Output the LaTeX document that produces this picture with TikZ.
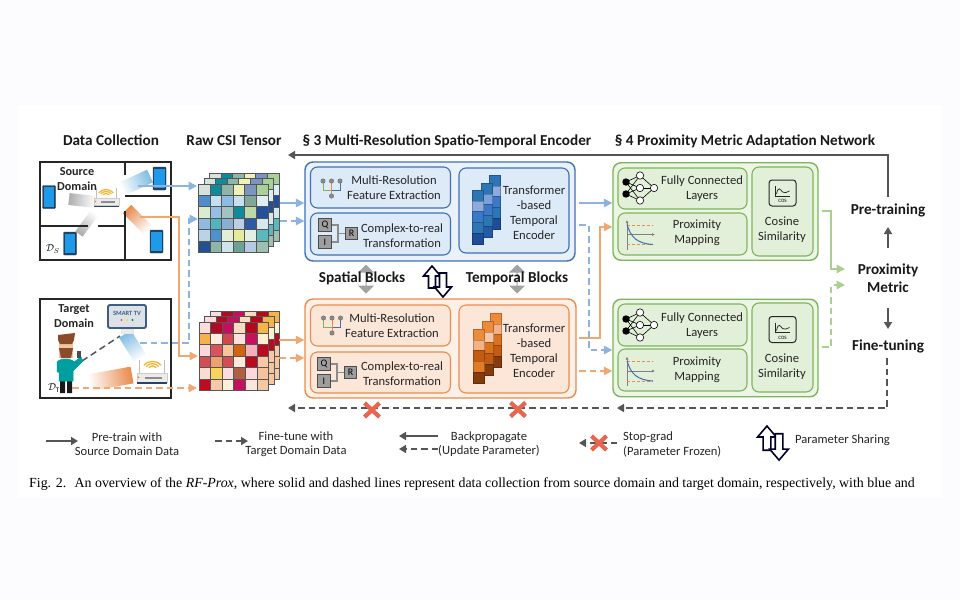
\documentclass[tikz,border=0pt]{standalone}
\usepackage{fontspec}
\setmainfont{Carlito}
\newfontfamily\capfont{Liberation Serif}
\usetikzlibrary{arrows.meta,calc,shapes.arrows}

\definecolor{dkg}{HTML}{555555}
\definecolor{blu}{HTML}{8DB4DE}
\definecolor{org}{HTML}{F0A873}
\definecolor{grn}{HTML}{A9D18E}
\definecolor{blub}{HTML}{3F70B5}
\definecolor{orgb}{HTML}{E88C4F}
\definecolor{grnb}{HTML}{7DB45C}
\definecolor{blof}{HTML}{E9F1FA}
\definecolor{blif}{HTML}{DDEAF7}
\definecolor{orof}{HTML}{FDF0E6}
\definecolor{orif}{HTML}{FBE6D8}
\definecolor{grof}{HTML}{EDF5E6}
\definecolor{grif}{HTML}{E2EFD9}
\definecolor{scrn}{HTML}{1E9BE8}
\definecolor{pfrm}{HTML}{26415E}
\definecolor{tvfr}{HTML}{3F5F80}
\definecolor{skin}{HTML}{F2C79B}
\definecolor{hair}{HTML}{8B4A2B}
\definecolor{stopc}{HTML}{E8654F}
\definecolor{wfc}{HTML}{F7B52C}

% csi cells, six to a row
\newcommand{\srccells}{D5E3DC,0F8A9C,8FB5A8,EEF2B8,7B94C0,A9CF9B,4F8ECB,C5DFF0,8CBBE4,C8DFF0,7FA899,DFEEF5,DCEAD0,96BDE6,A3C3C0,0F8A9C,BCD9A8,22509A,8FBBE0,52B4BD,8AAED4,BCCDE4,2A5AA8,D5E8EE,BAD3E6,4F90CD,E3EFD3,E4EB9A,E3EFE0,5AB8BE,23508F,8FB5A8,CFE3EA,6FA295,B5C9E0,9EC0B0}
\newcommand{\tgtcells}{FBDCDC,B00A24,C40F5E,F7DCC0,B50A1C,F4B44C,F4B24E,FDECDC,D0474E,FDE0DC,C8105E,FDF0D0,FBD8DC,D8545A,F5C49C,D1640F,F8B0B8,B80A20,D24E54,EEA070,D24E54,FDE8DC,BB0A20,F6C8A8,FBDCD0,F9D45C,FCDCDC,B06040,FCD8DC,F5C49C,C00A20,F4C8A8,FDF0D8,C4105E,FDE4DC,F5C8A4}
\newcommand{\csigrid}[3]{
	\foreach \c [count=\i from 0] in #3 {
		\pgfmathtruncatemacro\col{mod(\i,6)}
		\pgfmathtruncatemacro\row{\i/6}
		\definecolor{cell}{HTML}{\c}
		\filldraw[fill=cell, draw=dkg, line width=0.9pt] (#1+\col*11.6, #2+\row*11.4) rectangle +(11.6,11.4);
	}
}
% faded band: strong end, weak end, half width, colour, direction
\newcommand{\sigband}[5]{
	\pgfmathsetmacro\ang{#5+90}
	\shade[left color=#4, right color=white, shading angle=\ang]
		($#1!#3!90:#2$) -- ($#1!#3!-90:#2$) -- ($#2!#3!90:#1$) -- ($#2!#3!-90:#1$) -- cycle;
}
\newcommand{\barcol}[7]{
	\foreach \c [count=\i from 0] in {#3,#4,#5,#6,#7} {
		\definecolor{cell}{HTML}{\c}
		\filldraw[fill=cell, draw=cell!75!black, line width=0.4pt] (#1, #2+\i*10.8) rectangle +(11,10.8);
	}
}

\begin{document}
\begin{tikzpicture}[x=1pt, y=-1pt]
\tikzset{
lbl/.style={align=center, inner sep=0pt, font=\fontsize{12.6}{15}\selectfont, text=black!85},
ttl/.style={align=center, inner sep=0pt, font=\fontsize{15.2}{18}\selectfont\bfseries, text=black!90},
rm/.style={draw=black!85, line width=1.7pt, fill=white, inner sep=0pt},
wall/.style={draw=black!85, line width=1.7pt},
f/.style={-{Triangle[length=8.5pt,width=8.5pt]}, line width=1.5pt},
g/.style={-{Triangle[length=7pt,width=8pt]}, line width=1.7pt, dkg},
dsh/.style={dash pattern=on 6.5pt off 4pt},
enc/.style={rounded corners=8pt, inner sep=0pt, line width=1.4pt},
blk/.style={rounded corners=7pt, inner sep=0pt, line width=1.1pt},
qbox/.style={draw=black!70, fill=black!38, line width=0.9pt, inner sep=0pt, minimum size=12.5pt, font=\fontsize{10}{10}\selectfont},
% small icons
phone/.pic={
	\filldraw[fill=pfrm, draw=pfrm, rounded corners=1pt] (-6.5,-11.5) rectangle (6.5,11.5);
	\fill[scrn] (-5.4,-9.8) rectangle (5.4,9.8);
},
router/.pic={
	\draw[black!25, line width=1pt] (-10,-1) -- (-10,-15) (10,-1) -- (10,-15);
	\fill[white] (-9.5,-15) rectangle (9.5,-4);
	\filldraw[fill=black!8, draw=black!20, line width=0.5pt] (-12.5,-4) rectangle (12.5,3);
	\fill[black!45] (-6,-1.2) rectangle (8,0);
	\fill[blub!60!black] (-12.5,3) rectangle (12.5,4.2);
	\fill[orange] (-11,-1) circle (0.8pt);
},
wifi/.pic={
	\foreach \r in {3.5,6,8.5} {
		\draw[wfc, line width=1.25pt, line cap=round] (-\r,-\r*0.45) .. controls (-\r*0.4,-\r*1.05) and (\r*0.4,-\r*1.05) .. (\r,-\r*0.45);
	}
},
tree/.pic={
	\draw[grnb, line width=1pt] (-8.5,0) |- (0,9);
	\draw[blub, line width=1pt] (8.5,0) |- (0,9);
	\draw[orgb, line width=1pt] (0,0) -- (0,15);
	\foreach \x/\y in {-8.5/0, 0/0, 8.5/0, 0/15} {
		\filldraw[fill=black!45, draw=black!60, line width=0.4pt] (\x,\y) circle (2.2pt);
	}
},
qir/.pic={
	\draw[black!45, line width=1.1pt] (6,6) -| (19,14.5) -- (26,14.5) (6,23) -| (19,14.5);
	\node[qbox] (q) at (6,6) {Q};
	\node[qbox] (i) at (6,23) {I};
	\node[qbox] (r) at (32.5,14.5) {R};
},
nnet/.pic={
	\foreach \a/\b in {0/-6, 0/6} {
		\foreach \c in {-12.5,0,12.5} {
			\draw[black, line width=0.6pt] (0,\b) -- (14,\c);
		}
	}
	\foreach \c in {-12.5,0,12.5} {
		\draw[black, line width=0.6pt] (14,\c) -- (28,0);
		\filldraw[fill=white, draw=black, line width=0.6pt] (14,\c) circle (3.7pt);
	}
	\filldraw[fill=white, draw=black, line width=0.6pt] (28,0) circle (3.7pt);
	\fill[black] (0,-6) circle (3.7pt) (0,6) circle (3.7pt);
},
chart/.pic={
	\draw[-{Latex[length=3pt,width=3pt]}, black!50, line width=0.7pt] (0,0) -- (0,-14.5);
	\draw[black!50, line width=0.7pt] (0,0) -- (0,15);
	\draw[-{Latex[length=3pt,width=3pt]}, black!50, line width=0.7pt] (0,0) -- (28,0);
	\draw[orgb, densely dashed, line width=0.8pt] (0,-9.5) -- (26,-9.5) (0,10) -- (26,10);
	\draw[blub, line width=1pt] (0,-10) .. controls (4,3) and (10,9) .. (26,10);
},
cosine/.pic={
	\filldraw[fill=grif, draw=black!85, rounded corners=3pt, line width=1pt] (-13.5,-13) rectangle (13.5,13);
	\draw[black!85, line width=0.7pt] (-7.5,-7) -- (-7.5,3) -- (7.5,3);
	\draw[black!85, line width=0.7pt] (-6,1) .. controls (-4,-8) and (-2,-3) .. (0,-1) .. controls (2,1) and (4,-1) .. (7,-2);
	\node[inner sep=0pt, font=\fontsize{5}{5}\selectfont] (cs) at (0,8) {COS};
},
share/.pic={
	\filldraw[fill=white, draw=black!85!blue, line width=1.6pt, line join=miter] (-5.5,-15) -- (3,-5) -- (-2,-5) -- (-2,7) -- (-9,7) -- (-9,-5) -- (-14,-5) -- cycle;
	\filldraw[fill=white, draw=black!85!blue, line width=1.6pt, line join=miter] (5.5,16) -- (14,6) -- (9,6) -- (9,-8) -- (2,-8) -- (2,6) -- (-3,6) -- cycle;
},
stopx/.pic={
	\draw[stopc, line width=4.2pt] (-7.5,-7) -- (7.5,7) (-7.5,7) -- (7.5,-7);
}
}

% page and white sheet
\useasboundingbox (0,0) rectangle (960,600);
\fill[black!2!blue!1!white] (0,0) rectangle (960,600);
\fill[white] (18,105) rectangle (942,497);

% titles
\node[ttl] (tdc) at (111,140.5) {Data Collection};
\node[ttl] (tcsi) at (234,141) {Raw CSI Tensor};
\node[ttl] (tenc) at (447,141) {§ 3 Multi-Resolution Spatio-Temporal Encoder};
\node[ttl] (tnet) at (745,141) {§ 4 Proximity Metric Adaptation Network};

% source room
\node[rm, minimum width=131pt, minimum height=98pt] (rms) at (105.5,211) {};
\sigband{(69,199)}{(95,202)}{6pt}{black!32}{-7}
\sigband{(79,234)}{(95,212)}{4.5pt}{black!32}{54}
\sigband{(150,176)}{(122,189)}{7pt}{blu!90!cyan}{205}
\sigband{(127,209)}{(148,230)}{6pt}{orgb}{-45}
\draw[wall] (125,162) -- (125,175) (125,211) -- (125,260) (125,196) -- (171,196) (40,226) -- (88,226) (98,226) -- (125,226);
\pic at (159.5,178.5) {phone};
\pic at (49,197) {phone};
\pic at (70,243.5) {phone};
\pic at (156.5,241.5) {phone};
\pic at (106.5,202.5) {router};
\pic at (106,196) [scale=0.85] {wifi};
\node[lbl, font=\fontsize{12.2}{15}\selectfont\bfseries] (lsrc) at (77,179.5) {Source\\Domain};
\node[inner sep=0pt] (ds) at (53,249) {$\mathcal{D}_S$};

% target room
\node[rm, minimum width=131pt, minimum height=99pt] (rmt) at (105.5,348.5) {};
\sigband{(125,334)}{(140,358)}{7pt}{blu!90!cyan}{-58}
\sigband{(132,375)}{(88,383)}{8.5pt}{orgb}{190}
\draw[dkg, line width=1.5pt, dsh] (82,361) -- (120,336);
\pic at (152,378.5) [scale=1.22] {router};
\pic at (152.5,369) {wifi};
% smart tv on its stand
\filldraw[fill=black!8, draw=black!10] (121,329) rectangle (133,333);
\filldraw[fill=tvfr!18, draw=tvfr, rounded corners=1.5pt, line width=1.8pt] (108,305) rectangle (146,328);
\node[inner sep=0pt, font=\fontsize{6.4}{7}\selectfont\bfseries, text=tvfr] (tv) at (127,313) {SMART TV};
\fill[red!70] (121.5,320) circle (1.1pt);
\fill[yellow!80!orange] (127,320) circle (1.1pt);
\fill[green!60!black] (132.5,320) circle (1.1pt);
% person
\fill[black!90] (60,380) rectangle (65,393) (67,380) rectangle (72,393);
\filldraw[fill=teal!75!cyan, draw=teal!75!cyan, line width=0.5pt] (57,362) .. controls (60,358) and (71,358) .. (74,362) -- (81,357) -- (83,361) -- (73,371) -- (73,381) -- (59,381) -- (59,372) -- (57,372) -- cycle;
\fill[skin] (59,340) rectangle (73,358);
\fill[hair] (58,340) -- (58,335) -- (75,333) -- (74,340) -- (72,344) -- (60,344) -- cycle;
\fill[hair] (59,348) -- (73,348) -- (71,358) -- (61,358) -- cycle;
\filldraw[fill=black!70, draw=black!70] (77,351) rectangle (80.5,357);
\node[inner sep=0pt] (dt) at (54,388) {$\mathcal{D}_{\mathrm{T}}$};
\node[lbl, font=\fontsize{12.2}{15}\selectfont\bfseries] (ltgt) at (74,316) {Target\\Domain};

% csi tensors, three sheets each
\csigrid{209.5}{173}{\srccells}
\csigrid{204}{178.5}{\srccells}
\csigrid{198.5}{184}{\srccells}
\csigrid{210}{311}{\tgtcells}
\csigrid{204.5}{316.5}{\tgtcells}
\csigrid{199}{322}{\tgtcells}

% encoders
\node[enc, draw=blub, fill=blof, minimum width=270pt, minimum height=99pt] (encs) at (440,211.5) {};
\node[enc, draw=orgb, fill=orof, minimum width=271pt, minimum height=99pt] (enct) at (440.5,348.5) {};
\foreach \n/\cc/\fl/\y/\h in {ms/blub/blif/187.5/41, cs/blub/blif/234/42, mt/orgb/orif/325.5/41, ct/orgb/orif/372.5/41} {
	\node[blk, draw=\cc, fill=\fl, minimum width=140pt, minimum height=\h pt] (\n) at (380.5,\y) {};
}
\node[blk, draw=blub, fill=blif, minimum width=110pt, minimum height=85pt] (ts) at (514,210.5) {};
\node[blk, draw=orgb, fill=orif, minimum width=110pt, minimum height=88pt] (tt) at (514,349) {};

\pic at (331.5,181) {tree};
\pic at (332,318) {tree};
\pic at (319,219) {qir};
\pic at (318,358) {qir};

\barcol{489}{175}{2E75B6}{8FAADC}{3C78C8}{2E75B6}{1F4E99}
\barcol{481}{183}{2E75B6}{7CA0DC}{3C78C8}{2E75B6}{255AA5}
\barcol{472.5}{190}{2E75B6}{8FAADC}{3C78C8}{2E75B6}{1F4E99}
\barcol{490}{313}{ED8B3A}{F4B183}{D9731F}{C55A11}{843C0C}
\barcol{482}{321}{ED8B3A}{F8C6A0}{D9731F}{C55A11}{843C0C}
\barcol{473.5}{329}{ED8B3A}{F4B183}{C55A11}{E07B2A}{843C0C}

\node[lbl] (lms) at (394,187.5) {Multi-Resolution\\Feature Extraction};
\node[lbl] (lcs) at (402,235.5) {Complex-to-real\\Transformation};
\node[lbl] (lts) at (534,212.5) {Transformer\\-based\\Temporal\\Encoder};
\node[lbl] (lmt) at (392,325.5) {Multi-Resolution\\Feature Extraction};
\node[lbl] (lct) at (402,374) {Complex-to-real\\Transformation};
\node[lbl] (ltt) at (534,351) {Transformer\\-based\\Temporal\\Encoder};

% between the encoders
\foreach \n/\x in {sa/366, ta/517} {
	\node[double arrow, fill=black!36, rotate=90, inner sep=0pt, minimum height=29pt, minimum width=16pt, double arrow head extend=3pt] (\n) at (\x,279) {};
}
\node[ttl] (lsb) at (362,278) {Spatial Blocks};
\node[ttl] (ltb) at (517,278) {Temporal Blocks};
\pic at (437.5,281) {share};

% proximity networks
\foreach \n/\y in {s/211.5, t/348} {
	\node[enc, draw=grnb, fill=grof, minimum width=205pt, minimum height=97.5pt] (pn\n) at (715.5,\y) {};
}
\foreach \n/\y/\h in {fs/188.5/41, ps/234/42, ft/325/42, pt/370/42} {
	\node[blk, draw=grnb, fill=grif, minimum width=129pt, minimum height=\h pt] (\n) at (682.5,\y) {};
}
\foreach \n/\y in {cs2/211.5, ct2/347.5} {
	\node[blk, draw=grnb, fill=grif, minimum width=61pt, minimum height=89pt] (\n) at (782.5,\y) {};
}
\pic at (626,188) {nnet};
\pic at (626,325) {nnet};
\pic at (627,234.5) {chart};
\pic at (627,371) {chart};
\pic at (782.5,193) {cosine};
\pic at (782.5,329.5) {cosine};

\node[lbl] (lfs) at (702,189) {Fully Connected\\Layers};
\node[lbl] (lps) at (697,233) {Proximity\\Mapping};
\node[lbl] (lcs2) at (782,230) {Cosine\\Similarity};
\node[lbl] (lft) at (702,326) {Fully Connected\\Layers};
\node[lbl] (lpt) at (697,370) {Proximity\\Mapping};
\node[lbl] (lct2) at (782,367) {Cosine\\Similarity};

% training labels
\node[ttl] (pre) at (888,210) {Pre-training};
\node[ttl] (pm) at (888,278) {Proximity\\Metric};
\node[ttl] (fin) at (888,346) {Fine-tuning};

% ends of the connectors
\foreach \n/\x/\y in {a/138/186, b/197/186, c/140/217, d/179/217, e/198/356, h/140/343, j/189/343, k/198/219,
	l/72/388, m/197/388, n1/280/203, n2/280/221, n3/279/340, n4/279/358,
	o1/579/203, o2/579/225, o3/589/350, o4/579/338, o5/600/338, o6/600/227, o7/579/371,
	p1/822/211, p2/831/211, p3/845/269, p4/822/347, p5/831/347, p6/845/285,
	u1/888/197, u2/888/155, u3/288/155, v1/888/248, v2/888/227, w1/888/308, w2/888/329,
	x1/887/358, x2/887/408, x3/617/408, x4/609/408, x5/288/408,
	q1/46/441, q2/78/441, q3/215/441, q4/248/441, q5/438/436, q6/399/436, q7/438/449, q8/399/449,
	q9/617/443, q0/579/443} {
	\coordinate (\n) at (\x,\y);
}

% data flow into the tensors
\draw[f, blu] (a) -- (b);
\draw[f, org] (c) -- (d) -- (d|-e) -- (e);
\draw[f, blu, dsh] (h) -- (j) -- (j|-k) -- (k);
\draw[f, org, dsh] (l) -- (m);
\draw[f, blu] (n1) -- (n1-|encs.west);
\draw[f, blu, dsh] (n2) -- (n2-|encs.west);
\draw[f, org] (n3) -- (n3-|enct.west);
\draw[f, org, dsh] (n4) -- (n4-|enct.west);

% encoders to proximity networks
\draw[f, blu] (o1) -- (o1-|pns.west);
\draw[f, blu, dsh] (o2) -- (o2-|o3) -- (o3) -- (o3-|pns.west);
\draw[f, org] (o4) -- (o5) -- (o6) -- (o6-|pns.west);
\draw[f, org, dsh] (o7) -- (o7-|pns.west);

% networks to metric
\draw[f, grn] (p1) -- (p2) -- (p2|-p3) -- (p3);
\draw[f, grn, dsh] (p4) -- (p5) -- (p5|-p6) -- (p6);

% back to the encoder
\draw[g] (u1) -- (u2) -- (u3);
\draw[g] (v1) -- (v2);
\draw[g] (w1) -- (w2);
\draw[g, dsh] (x1) -- (x2) -- (x3);
\draw[g, dsh] (x4) -- (x5);
\pic at (372,410) {stopx};
\pic at (518,409.5) {stopx};

% legend
\draw[g] (q1) -- (q2);
\draw[g, dsh] (q3) -- (q4);
\draw[g] (q5) -- (q6);
\draw[g, dsh] (q7) -- (q8);
\draw[g, dsh] (q9) -- (q0);
\pic at (599,443) {stopx};
\pic at (773,442.5) [scale=1.1] {share};
\tikzset{lg/.style={lbl, font=\fontsize{12.6}{14.5}\selectfont}}
\node[lg] (l1) at (127,444) {Pre-train with\\Source Domain Data};
\node[lg] (l2) at (296,444) {Fine-tune with\\Target Domain Data};
\node[lg] (l3) at (489,444) {Backpropagate\\(Update Parameter)};
\node[lg, align=left, anchor=west] (l4) at (623,444.5) {Stop-grad\\(Parameter Frozen)};
\node[lg, anchor=west] (l5) at (795,440) {Parameter Sharing};

% caption
\node[inner sep=0pt, anchor=west, font=\capfont\fontsize{13.9}{15}\selectfont] (cap) at (29,484) {Fig. 2.\hspace{0.6em}An overview of the \textit{RF-Prox}, where solid and dashed lines represent data collection from source domain and target domain, respectively, with blue and};

\end{tikzpicture}
\end{document}
